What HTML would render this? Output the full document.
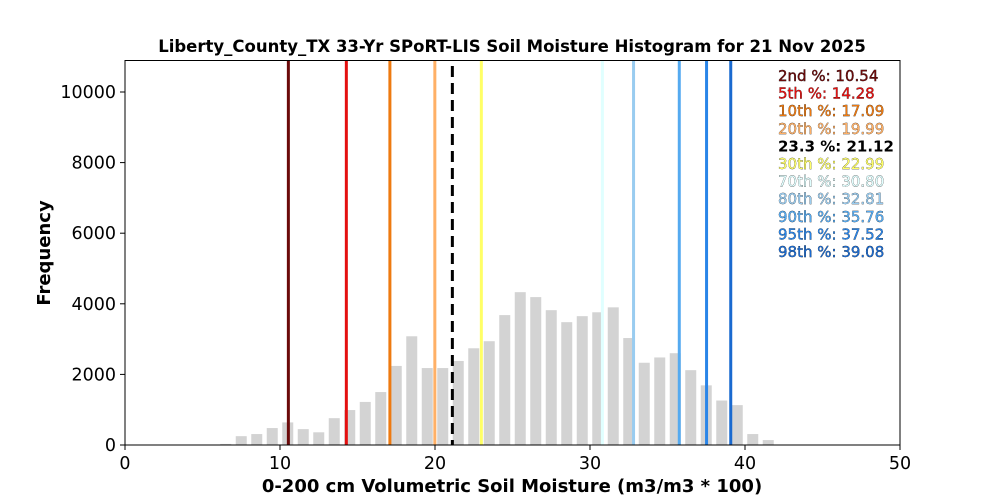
<!DOCTYPE html>
<html><head><style>body{margin:0;background:#fff}svg{display:block}</style></head><body>
<svg width="1000" height="500" xmlns="http://www.w3.org/2000/svg" font-family="'DejaVu Sans','Liberation Sans',sans-serif">
<rect width="1000" height="500" fill="#fff"/>
<g id="bars" fill="#d3d3d3"></g>
<g id="lines" stroke-width="3"></g>
<rect x="125" y="60.5" width="775" height="384.5" fill="none" stroke="#000" stroke-width="1"/>
<g id="ticks" stroke="#000" stroke-width="1"></g>
<g id="tl" font-size="17.5" fill="#000"></g>
<text x="512" y="52" font-size="16.5" font-weight="bold" text-anchor="middle">Liberty_County_TX 33-Yr SPoRT-LIS Soil Moisture Histogram for 21 Nov 2025</text>
<text x="512" y="492" font-size="18" font-weight="bold" text-anchor="middle">0-200 cm Volumetric Soil Moisture (m3/m3 * 100)</text>
<text transform="translate(50,253) rotate(-90)" font-size="18" font-weight="bold" text-anchor="middle">Frequency</text>
<g id="leg" font-size="15" stroke="#000" stroke-width="0.4" paint-order="stroke"></g>
</svg>
<script>
const X=v=>125+15.5*v, Y=f=>445-f*0.0353;
const h=[[6.5,30],[7.5,250],[8.5,310],[9.5,480],[10.5,640],[11.5,450],[12.5,360],[13.5,760],[14.5,990],[15.5,1220],[16.5,1500],[17.5,2240],[18.5,3080],[19.5,2180],[20.5,2180],[21.5,2380],[22.5,2740],[23.5,2940],[24.5,3680],[25.5,4330],[26.5,4190],[27.5,3820],[28.5,3480],[29.5,3650],[30.5,3760],[31.5,3900],[32.5,3030],[33.5,2330],[34.5,2480],[35.5,2600],[36.5,2120],[37.5,1690],[38.5,1260],[39.5,1130],[40.5,310],[41.5,140]];
const ns="http://www.w3.org/2000/svg";
function el(p,t,a,txt){const e=document.createElementNS(ns,t);for(const k in a)e.setAttribute(k,a[k]);if(txt!=null)e.textContent=txt;p.appendChild(e);return e;}
const B=document.getElementById('bars');
h.forEach(([v,f])=>el(B,'rect',{x:X(v)-5.5,y:Y(f),width:11,height:445-Y(f)}));
const L=document.getElementById('lines');
const ln=[[10.54,'#6b0a0a'],[14.28,'#e41010'],[17.09,'#ee7a10'],[19.99,'#ffb066'],[22.99,'#ffff66'],[30.80,'#e0ffff'],[32.81,'#99ccf0'],[35.76,'#55aaf0'],[37.52,'#2a85e8'],[39.08,'#1a6ad0']];
ln.forEach(([v,c])=>el(L,'line',{x1:X(v),x2:X(v),y1:60.5,y2:445,stroke:c}));
el(L,'line',{x1:X(21.12),x2:X(21.12),y1:66,y2:445,stroke:'#000','stroke-dasharray':'11,6'});
const T=document.getElementById('ticks'),TL=document.getElementById('tl');
for(let v=0;v<=50;v+=10){el(T,'line',{x1:X(v),x2:X(v),y1:445,y2:450});el(TL,'text',{x:X(v),y:469,'text-anchor':'middle'},v);}
for(let f=0;f<=10000;f+=2000){el(T,'line',{x1:120,x2:125,y1:Y(f),y2:Y(f)});el(TL,'text',{x:116,y:Y(f)+6,'text-anchor':'end'},f);}
const G=document.getElementById('leg');
const lg=[['2nd %: 10.54','#6b0a0a'],['5th %: 14.28','#e41010'],['10th %: 17.09','#ee7a10'],['20th %: 19.99','#ffb066'],['23.3 %: 21.12','#000'],['30th %: 22.99','#ffff66'],['70th %: 30.80','#e0ffff'],['80th %: 32.81','#99ccf0'],['90th %: 35.76','#55aaf0'],['95th %: 37.52','#2a85e8'],['98th %: 39.08','#1a6ad0']];
lg.forEach(([t,c],i)=>{const e=el(G,'text',{x:778,y:81+i*17.6,fill:c},t);if(i==4){e.setAttribute('font-weight','bold');e.setAttribute('stroke','none');}});
</script>
</body></html>
